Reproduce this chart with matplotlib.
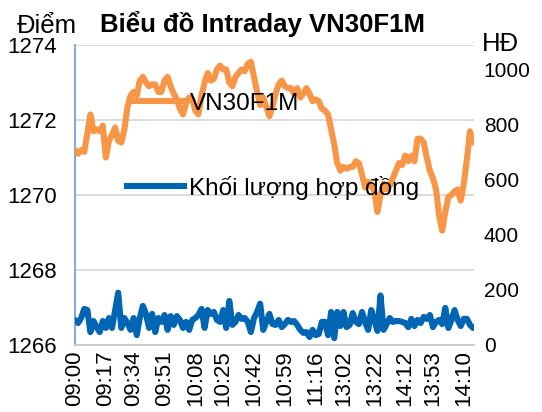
import numpy as np
import matplotlib
matplotlib.use("Agg")
import matplotlib.pyplot as plt
from matplotlib.lines import Line2D

plt.rcParams['font.family'] = ['Liberation Sans', 'DejaVu Sans']

title = "Biểu đồ Intraday VN30F1M"
price_label = "VN30F1M"
volume_label = "Khối lượng hợp đồng"
left_axis_title = "Điểm"
right_axis_title = "HĐ"

time_labels = ["09:00", "09:17", "09:34", "09:51", "10:08", "10:25", "10:42",
               "10:59", "11:16", "13:02", "13:22", "14:12", "13:53", "14:10"]

price = [
    1271.2, 1271.1, 1271.2, 1271.15, 1271.65, 1272.15, 1271.7, 1271.75, 1271.7, 1271.85,
    1271.0, 1271.45, 1271.6, 1271.8, 1271.45, 1271.4, 1271.75, 1272.35, 1272.65, 1272.75,
    1272.65, 1273.05, 1273.15, 1273.0, 1272.9, 1272.95, 1272.95, 1272.75, 1272.75, 1273.05,
    1273.15, 1272.9, 1272.7, 1272.55, 1272.3, 1272.15, 1272.45, 1272.6, 1272.55, 1272.25,
    1272.15, 1272.65, 1273.0, 1273.25, 1273.05, 1273.1, 1273.35, 1273.45, 1273.35, 1273.35,
    1273.0, 1272.9, 1273.15, 1273.25, 1273.35, 1273.3, 1273.5, 1273.55, 1273.15, 1272.75,
    1272.4, 1272.6, 1272.35, 1272.1, 1272.35, 1272.7, 1272.95, 1273.05, 1272.9, 1272.85,
    1272.85, 1272.7, 1272.85, 1272.6, 1272.7, 1272.85, 1272.7, 1272.5, 1272.55, 1272.5,
    1272.3, 1272.25, 1272.15, 1271.75, 1271.35, 1270.85, 1270.65, 1270.75, 1270.7, 1270.75,
    1270.75, 1270.9, 1270.85, 1270.55, 1270.2, 1270.35, 1270.25, 1270.1, 1269.55, 1270.0,
    1270.3, 1270.15, 1270.25, 1270.45, 1270.65, 1270.85, 1270.8, 1271.05, 1270.9, 1271.05,
    1270.9, 1271.5, 1271.5, 1271.4, 1271.0, 1270.65, 1270.45, 1270.15, 1269.45, 1269.05,
    1269.55, 1269.95, 1270.0, 1270.1, 1270.15, 1269.85, 1270.3, 1270.95, 1271.7, 1271.4,
]

volume = [
    91, 80, 98, 131, 127, 47, 87, 65, 47, 87,
    62, 98, 62, 127, 190, 62, 98, 80, 55, 98,
    36, 98, 142, 113, 62, 113, 47, 98, 84, 109,
    55, 105, 73, 105, 91, 62, 84, 55, 91, 98,
    109, 131, 62, 127, 113, 120, 91, 84, 127, 62,
    160, 73, 84, 109, 95, 98, 84, 47, 98, 120,
    150, 55, 84, 113, 76, 73, 91, 65, 76, 91,
    84, 87, 73, 55, 44, 47, 29, 55, 36, 40,
    84, 84, 36, 120, 25, 120, 69, 120, 65, 73,
    116, 84, 76, 120, 84, 55, 127, 91, 51, 180,
    55, 76, 98, 84, 87, 87, 84, 80, 65, 95,
    69, 91, 80, 102, 95, 109, 65, 84, 91, 76,
    135, 62, 91, 127, 91, 69, 95, 95, 73, 62,
]

orange = '#f79646'
blue = '#0066b3'
LW = 4.4

n = len(price)
x = np.arange(n)
label_step = (n - 4) / (len(time_labels) - 1)
tick_pos = np.round(np.arange(len(time_labels)) * label_step).astype(int)

W, H = 542, 412
fig = plt.figure(figsize=(W / 100, H / 100), dpi=100)
ax = fig.add_axes([75 / W, 67 / H, 399 / W, 300 / H])
ax2 = ax.twinx()

ax.plot(x, price, color=orange, lw=LW, solid_joinstyle='round', solid_capstyle='round', zorder=3)
ax2.plot(x, volume, color=blue, lw=LW, solid_joinstyle='round', solid_capstyle='round', zorder=3)

ax.set_xlim(0, n - 0.7)
ax.set_ylim(1266, 1274)
ax.set_yticks([1266, 1268, 1270, 1272, 1274])
ax2.set_ylim(0, 1090)
ax2.set_yticks([0, 200, 400, 600, 800, 1000])

ax.set_xticks(tick_pos)
ax.set_xticklabels(time_labels, rotation=90, fontsize=16)
ax.tick_params(axis='x', length=0, pad=4)
ax.tick_params(axis='y', length=0, pad=13, labelsize=16)
ax2.tick_params(axis='y', length=0, pad=7, labelsize=15)

ax.yaxis.grid(True, color='#d9d9d9', lw=1.3, zorder=0)
ax.set_axisbelow(True)
for s in ['top', 'right']:
    ax.spines[s].set_visible(False)
ax.spines['left'].set_color('#6a9bd8')
ax.spines['left'].set_linewidth(1.2)
ax.spines['bottom'].set_color('#c8c8c8')
ax.spines['bottom'].set_linewidth(1.3)
for s in ax2.spines.values():
    s.set_visible(False)

h1 = Line2D([], [], color=orange, lw=LW)
h2 = Line2D([], [], color=blue, lw=LW)
leg1 = ax2.legend([h1], [price_label], loc='center left', bbox_to_anchor=(0.1375, 0.805),
                  frameon=False, fontsize=17.5, handlelength=2.25, handletextpad=0.2,
                  borderpad=0, borderaxespad=0)
ax2.add_artist(leg1)
leg2 = ax2.legend([h2], [volume_label], loc='center left', bbox_to_anchor=(0.13, 0.525),
                  frameon=False, fontsize=17.5, handlelength=2.35, handletextpad=0.2,
                  borderpad=0, borderaxespad=0)

fig.text(263 / W, 1 - 24 / H, title, ha='center', va='center', fontsize=18.5, fontweight='bold')
fig.text(17 / W, 1 - 26 / H, left_axis_title, ha='left', va='center', fontsize=18.5)
fig.text(482 / W, 1 - 44 / H, right_axis_title, ha='left', va='center', fontsize=18.5)

fig.savefig('out.png', dpi=100)
